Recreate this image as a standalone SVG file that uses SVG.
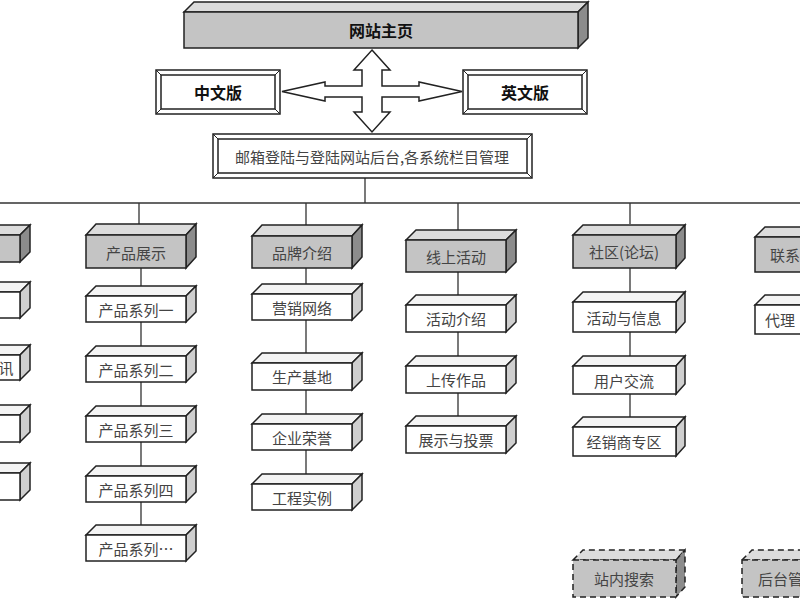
<svg xmlns="http://www.w3.org/2000/svg" width="800" height="600" viewBox="0 0 800 600">
<style>
.f{stroke:#222;stroke-width:1.5}
.g{fill:#c4c4c4}.gt{fill:#dcdcdc}.gs{fill:#8c8c8c}
.w{fill:#fff}.wt{fill:#f4f4f4}.ws{fill:#cfcfcf}
.d{stroke-dasharray:6 4}
text{font-family:"Noto Sans CJK SC","Noto Sans",sans-serif;font-size:15px;fill:#444;text-anchor:middle;dominant-baseline:central}
.b{font-weight:bold;fill:#111;font-size:16px}
.ln{stroke:#333;stroke-width:1.3;fill:none}
</style>
<rect width="800" height="600" fill="#fff"/>
<g id="connectors" class="ln">
<path d="M365,178V203M0,203H800M139,203V224M306,203V226M458,203V230M630,203V224"/>
<path d="M141,268V290M141,322V350M141,382V410M141,442V470M141,502V528"/>
<path d="M306,268V286M306,320V357M306,390V418M306,450V478"/>
<path d="M458,272V300M458,332V361M458,393V421"/>
<path d="M630,268V302M630,332V366M630,394V427"/>
</g>
<g id="arrow">
<path d="M372,50L390,70H382V86H462L462,86L462,91L462,91H462M372,50" fill="none" stroke="none"/>
<path d="M372,50L390,70H382V86H419V82L462,91.5L419,101V97H382V112H390L372,132L354,112H362V97H325V101L282,91.5L325,82V86H362V70H354Z" fill="#fff" stroke="#222" stroke-width="1.5"/>
</g>
<g id="home"><polygon class="f gt" points="184,12 194,2 588,2 578,12"/><polygon class="f gs" points="578,12 588,2 588,38 578,48"/><rect class="f g" x="184" y="12" width="394" height="36"/><text class="b" x="381" y="30">网站主页</text></g>
<g id="cn"><rect class="f w" x="156" y="70" width="124" height="44"/><rect class="f w" x="161" y="75" width="114" height="34" stroke-width="1"/><path d="M156,70L161,75M280,70L275,75M156,114L161,109M280,114L275,109" stroke="#222"/><text class="b" x="218" y="92">中文版</text></g>
<g id="en"><rect class="f w" x="463" y="70" width="124" height="44"/><rect class="f w" x="468" y="75" width="114" height="34" stroke-width="1"/><path d="M463,70L468,75M587,70L582,75M463,114L468,109M587,114L582,109" stroke="#222"/><text class="b" x="525" y="92">英文版</text></g>
<g id="login"><rect class="f w" x="213" y="134" width="319" height="44"/><rect class="f w" x="218" y="139" width="309" height="34" stroke-width="1"/><path d="M213,134L218,139M532,134L527,139M213,178L218,173M532,178L527,173" stroke="#222"/><text x="372" y="156">邮箱登陆与登陆网站后台,各系统栏目管理</text></g>

<g id="l0"><polygon class="f gt" points="-80,235 -70,225 30,225 20,235"/><polygon class="f gs" points="20,235 30,225 30,252 20,262"/><rect class="f g" x="-80" y="235" width="100" height="27"/></g>
<g id="l1"><polygon class="f wt" points="-80,292 -70,282 30,282 20,292"/><polygon class="f ws" points="20,292 30,282 30,308 20,318"/><rect class="f w" x="-80" y="292" width="100" height="26"/></g>
<g id="l2"><polygon class="f wt" points="-80,355 -70,345 30,345 20,355"/><polygon class="f ws" points="20,355 30,345 30,370 20,380"/><rect class="f w" x="-80" y="355" width="100" height="25"/><text x="6" y="367">讯</text></g>
<g id="l3"><polygon class="f wt" points="-80,415 -70,405 30,405 20,415"/><polygon class="f ws" points="20,415 30,405 30,432 20,442"/><rect class="f w" x="-80" y="415" width="100" height="27"/></g>
<g id="l4"><polygon class="f wt" points="-80,473 -70,463 30,463 20,473"/><polygon class="f ws" points="20,473 30,463 30,490 20,500"/><rect class="f w" x="-80" y="473" width="100" height="27"/></g>

<g id="c1h"><polygon class="f gt" points="86,235 96,224 196,224 186,235"/><polygon class="f gs" points="186,235 196,224 196,257 186,268"/><rect class="f g" x="86" y="235" width="100" height="33"/><text x="136" y="252">产品展示</text></g>
<g id="c1a"><polygon class="f wt" points="86,296 96,286 196,286 186,296"/><polygon class="f ws" points="186,296 196,286 196,312 186,322"/><rect class="f w" x="86" y="296" width="100" height="26"/><text x="136" y="309">产品系列一</text></g>
<g id="c1b"><polygon class="f wt" points="86,356 96,346 196,346 186,356"/><polygon class="f ws" points="186,356 196,346 196,372 186,382"/><rect class="f w" x="86" y="356" width="100" height="26"/><text x="136" y="369">产品系列二</text></g>
<g id="c1c"><polygon class="f wt" points="86,416 96,406 196,406 186,416"/><polygon class="f ws" points="186,416 196,406 196,432 186,442"/><rect class="f w" x="86" y="416" width="100" height="26"/><text x="136" y="429">产品系列三</text></g>
<g id="c1d"><polygon class="f wt" points="86,476 96,466 196,466 186,476"/><polygon class="f ws" points="186,476 196,466 196,492 186,502"/><rect class="f w" x="86" y="476" width="100" height="26"/><text x="136" y="489">产品系列四</text></g>
<g id="c1e"><polygon class="f wt" points="86,535 96,525 196,525 186,535"/><polygon class="f ws" points="186,535 196,525 196,551 186,561"/><rect class="f w" x="86" y="535" width="100" height="26"/><text x="136" y="548">产品系列…</text></g>

<g id="c2h"><polygon class="f gt" points="252,236 262,225 362,225 352,236"/><polygon class="f gs" points="352,236 362,225 362,257 352,268"/><rect class="f g" x="252" y="236" width="100" height="32"/><text x="302" y="252">品牌介绍</text></g>
<g id="c2a"><polygon class="f wt" points="252,294 262,284 362,284 352,294"/><polygon class="f ws" points="352,294 362,284 362,310 352,320"/><rect class="f w" x="252" y="294" width="100" height="26"/><text x="302" y="307">营销网络</text></g>
<g id="c2b"><polygon class="f wt" points="252,363 262,353 362,353 352,363"/><polygon class="f ws" points="352,363 362,353 362,380 352,390"/><rect class="f w" x="252" y="363" width="100" height="27"/><text x="302" y="376">生产基地</text></g>
<g id="c2c"><polygon class="f wt" points="252,424 262,414 362,414 352,424"/><polygon class="f ws" points="352,424 362,414 362,440 352,450"/><rect class="f w" x="252" y="424" width="100" height="26"/><text x="302" y="437">企业荣誉</text></g>
<g id="c2d"><polygon class="f wt" points="252,484 262,474 362,474 352,484"/><polygon class="f ws" points="352,484 362,474 362,500 352,510"/><rect class="f w" x="252" y="484" width="100" height="26"/><text x="302" y="497">工程实例</text></g>

<g id="c3h"><polygon class="f gt" points="406,240 416,230 516,230 506,240"/><polygon class="f gs" points="506,240 516,230 516,262 506,272"/><rect class="f g" x="406" y="240" width="100" height="32"/><text x="456" y="256">线上活动</text></g>
<g id="c3a"><polygon class="f wt" points="406,305 416,295 516,295 506,305"/><polygon class="f ws" points="506,305 516,295 516,322 506,332"/><rect class="f w" x="406" y="305" width="100" height="27"/><text x="456" y="318">活动介绍</text></g>
<g id="c3b"><polygon class="f wt" points="406,366 416,356 516,356 506,366"/><polygon class="f ws" points="506,366 516,356 516,383 506,393"/><rect class="f w" x="406" y="366" width="100" height="27"/><text x="456" y="379">上传作品</text></g>
<g id="c3c"><polygon class="f wt" points="406,426 416,416 516,416 506,426"/><polygon class="f ws" points="506,426 516,416 516,443 506,453"/><rect class="f w" x="406" y="426" width="100" height="27"/><text x="456" y="439">展示与投票</text></g>

<g id="c4h"><polygon class="f gt" points="573,235 583,225 685,225 676,235"/><polygon class="f gs" points="676,235 685,225 685,258 676,268"/><rect class="f g" x="573" y="235" width="103" height="33"/><text x="624" y="251">社区(论坛)</text></g>
<g id="c4a"><polygon class="f wt" points="573,302 583,292 685,292 676,302"/><polygon class="f ws" points="676,302 685,292 685,322 676,332"/><rect class="f w" x="573" y="302" width="103" height="30"/><text x="624" y="317">活动与信息</text></g>
<g id="c4b"><polygon class="f wt" points="573,366 583,356 685,356 676,366"/><polygon class="f ws" points="676,366 685,356 685,384 676,394"/><rect class="f w" x="573" y="366" width="103" height="28"/><text x="624" y="380">用户交流</text></g>
<g id="c4c"><polygon class="f wt" points="573,427 583,417 685,417 676,427"/><polygon class="f ws" points="676,427 685,417 685,446 676,456"/><rect class="f w" x="573" y="427" width="103" height="29"/><text x="624" y="441">经销商专区</text></g>

<g id="c5h"><polygon class="f gt" points="755,237 765,227 865,227 855,237"/><rect class="f g" x="755" y="237" width="100" height="35"/><text x="770" y="254" style="text-anchor:start">联系</text></g>
<g id="c5a"><polygon class="f wt" points="755,305 765,295 865,295 855,305"/><rect class="f w" x="755" y="305" width="100" height="29"/><text x="765" y="319" style="text-anchor:start">代理</text></g>

<g id="search"><polygon class="f gt d" points="573,560 583,550 685,550 676,560"/><polygon class="f gs d" points="676,560 685,550 685,587 676,597"/><rect class="f g d" x="573" y="560" width="103" height="37"/><text x="624" y="578">站内搜索</text></g>
<g id="admin"><polygon class="f gt d" points="742,560 752,550 852,550 842,560"/><rect class="f g d" x="742" y="560" width="100" height="37"/><text x="758" y="578" style="text-anchor:start">后台管</text></g>
</svg>
